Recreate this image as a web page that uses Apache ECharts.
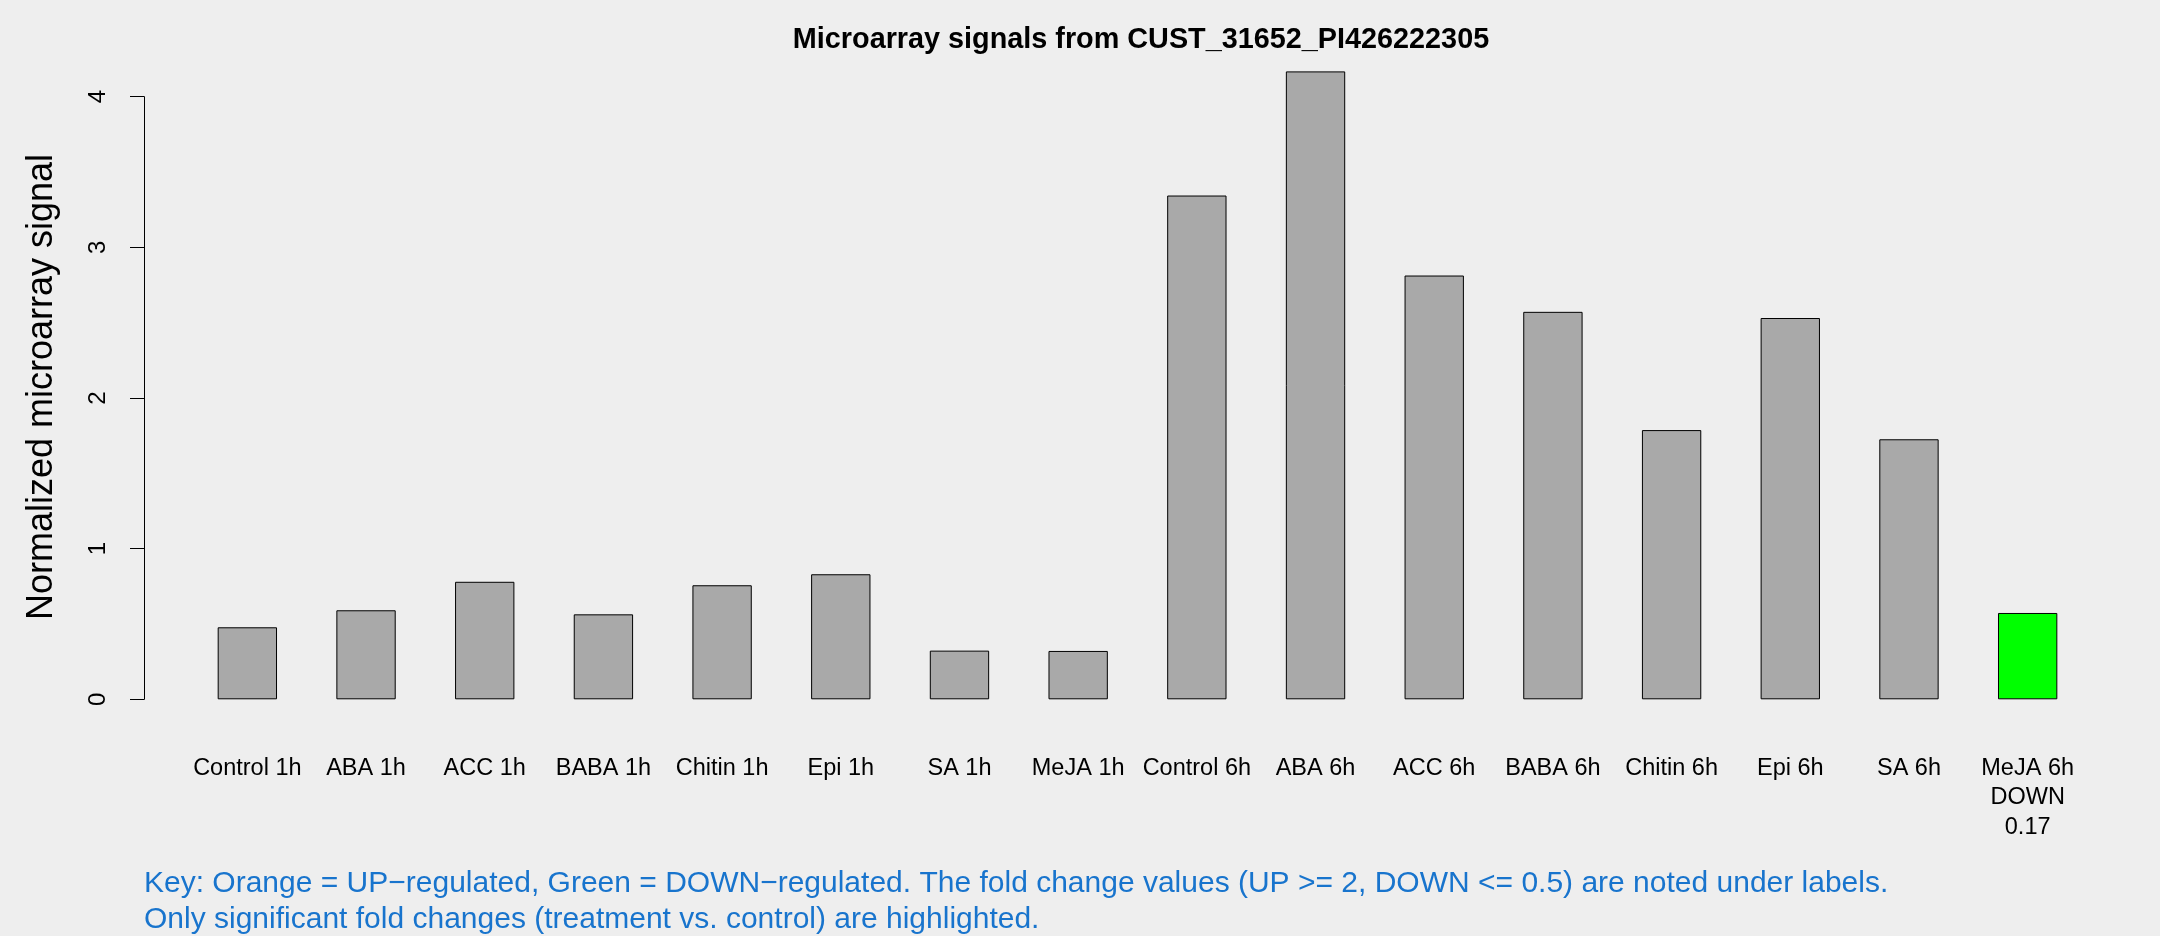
<!DOCTYPE html>
<html>
<head>
<meta charset="utf-8">
<script src="https://cdn.jsdelivr.net/npm/echarts@6/dist/echarts.min.js"></script>
<style>
html,body{margin:0;padding:0;background:#EEEEEE;}
#chart{width:2160px;height:936px;}
</style>
</head>
<body>
<div id="chart"></div>
<script>
// ---- data ----
var categories = ['Control 1h','ABA 1h','ACC 1h','BABA 1h','Chitin 1h','Epi 1h','SA 1h','MeJA 1h',
                  'Control 6h','ABA 6h','ACC 6h','BABA 6h','Chitin 6h','Epi 6h','SA 6h','MeJA 6h'];
var signals = [0.478, 0.591, 0.780, 0.564, 0.757, 0.830, 0.323, 0.321,
               3.344, 4.168, 2.813, 2.572, 1.787, 2.531, 1.726, 0.573];
var regulation = ['','','','','','','','','','','','','','','','DOWN'];
var foldChange = ['','','','','','','','','','','','','','','','0.17'];
var yTicks = [0, 1, 2, 3, 4];
var titleText = 'Microarray signals from CUST_31652_PI426222305';
var yName = 'Normalized microarray signal';
var keyText = 'Key: Orange = UP\u2212regulated, Green = DOWN\u2212regulated. The fold change values (UP >= 2, DOWN <= 0.5) are noted under labels.\nOnly significant fold changes (treatment vs. control) are highlighted.';

var regColors = {UP: '#FFA500', DOWN: '#00FF00'};
var baseColor = '#A9A9A9';

var labels = categories.map(function(c, i){
  return regulation[i] ? c + '\n' + regulation[i] + '\n' + foldChange[i] : c;
});
var barData = signals.map(function(v, i){
  return {value: v, itemStyle: {color: regulation[i] ? regColors[regulation[i]] : baseColor}};
});

var chart = echarts.init(document.getElementById('chart'), null, {renderer: 'canvas'});
var FONT = '"Liberation Sans", Arial, Helvetica, sans-serif';
chart.setOption({
  backgroundColor: '#EEEEEE',
  animation: false,
  textStyle: {fontFamily: FONT},
  title: [
    {text: titleText, left: 1136, top: 21, textAlign: 'center',
     textStyle: {fontFamily: FONT, fontSize: 28.8, fontWeight: 'bold', color: '#000'}},
    {text: keyText, left: 144, top: 866, padding: 0,
     textStyle: {fontFamily: FONT, fontSize: 30, fontWeight: 'normal', color: '#1874CD', lineHeight: 36}}
  ],
  grid: {left: 188, right: 73, top: 96.7, bottom: 236.7, containLabel: false},
  xAxis: {
    type: 'category',
    data: labels,
    axisLine: {show: false},
    axisTick: {show: false},
    axisLabel: {interval: 0, margin: 54, fontSize: 23.5, color: '#000', lineHeight: 29.5, fontFamily: FONT}
  },
  yAxis: {
    type: 'value',
    min: yTicks[0], max: yTicks[yTicks.length-1], interval: 1,
    offset: 44,
    name: yName,
    nameLocation: 'middle',
    nameRotate: 90,
    nameGap: 84,
    nameTextStyle: {fontSize: 36, color: '#000', fontFamily: FONT, padding: [0, 0, 0, 22]},
    axisLine: {show: true, lineStyle: {color: '#000', width: 1}},
    axisTick: {show: true, length: 14, lineStyle: {color: '#000'}},
    axisLabel: {rotate: 90, margin: 34, fontSize: 24, color: '#000', fontFamily: FONT},
    splitLine: {show: false}
  },
  series: [{
    type: 'bar',
    data: barData,
    barWidth: '50%',
    clip: false,
    itemStyle: {borderColor: '#000', borderWidth: 1}
  }]
});
</script>
</body>
</html>
